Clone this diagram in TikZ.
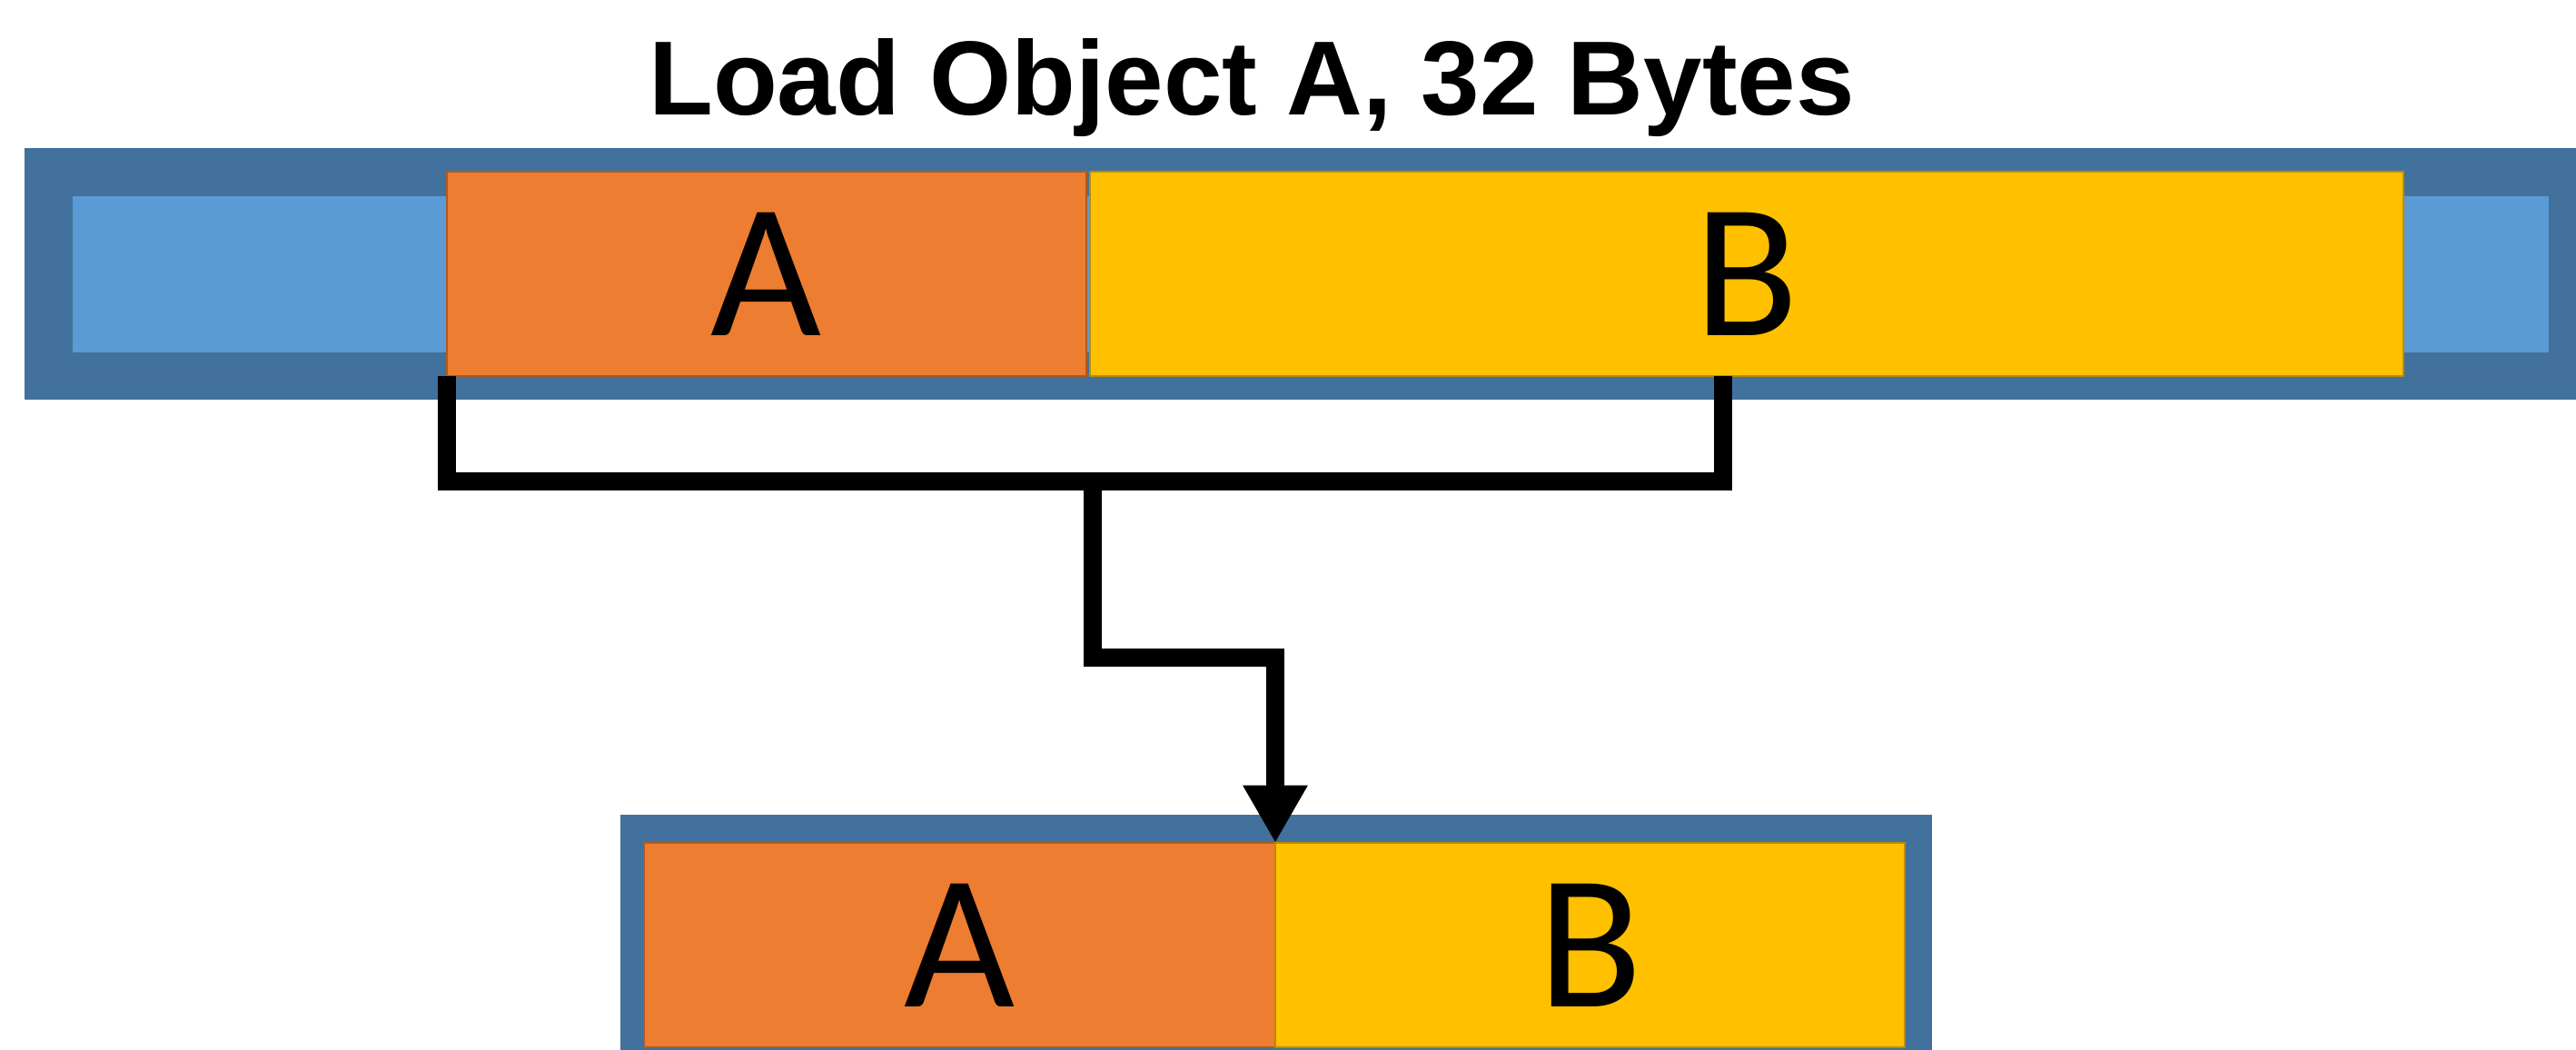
\documentclass[tikz,border=0pt]{standalone}
\usepackage{fontspec}
\setmainfont{Liberation Sans}
\newfontfamily\letterfont{Carlito}
\usetikzlibrary{arrows.meta,calc}

\definecolor{bardark}{RGB}{65,113,156}
\definecolor{barlight}{RGB}{91,155,213}
\definecolor{objA}{RGB}{237,125,49}
\definecolor{objAedge}{RGB}{174,90,33}
\definecolor{objB}{RGB}{255,192,0}
\definecolor{objBedge}{RGB}{188,140,0}

\tikzset{
  cell/.style={rectangle, inner sep=0pt, outer sep=0pt, anchor=north west},
  barout/.style={cell, fill=bardark},
  barin/.style={cell, fill=barlight},
  blockA/.style={cell, fill=objA, draw=objAedge, line width=0.6pt,
    font=\letterfont\fontsize{60}{72}\selectfont},
  blockB/.style={cell, fill=objB, draw=objBedge, line width=0.6pt,
    font=\letterfont\fontsize{60}{72}\selectfont},
  wire/.style={line width=5.7pt, line join=miter, line cap=butt},
  title/.style={font=\bfseries\fontsize{33}{40}\selectfont, inner sep=0pt}
}

\begin{document}
\begin{tikzpicture}
  % canvas
  \fill[white] (0,0) rectangle (28.36,-11.56);
  \useasboundingbox (0,0) rectangle (28.36,-11.56);

  % heading
  \node[title, anchor=base] (head) at (13.78,-1.27) {Load Object A, 32 Bytes};

  % cache line holding both objects
  \node[barout, minimum width=28.09cm, minimum height=2.77cm] (line) at (0.27,-1.63) {};
  \node[barin, minimum width=27.26cm, minimum height=1.72cm] (lineIn) at (0.80,-2.16) {};
  \node[blockA, minimum width=7.04cm, minimum height=2.25cm] (topA) at (4.92,-1.89) {A};
  \node[blockB, minimum width=14.46cm, minimum height=2.25cm] (topB) at (12.00,-1.89) {B};

  % loaded 32-byte block
  \node[barout, minimum width=14.44cm, minimum height=2.65cm] (load) at (6.83,-8.97) {};
  \node[blockA, minimum width=6.95cm, minimum height=2.25cm] (botA) at (7.09,-9.28) {A};
  \node[blockB, minimum width=6.93cm, minimum height=2.25cm] (botB) at (14.04,-9.28) {B};

  % bracket over the loaded range
  \coordinate (bl) at (4.92,-5.30);
  \coordinate (br) at (18.97,-5.30);
  \coordinate (bm) at (12.03,-5.30);
  \coordinate (bend) at (12.03,-7.24);
  \draw[wire] (topA.south west) -- (bl) -- (br) -- (br |- topB.south);

  % arrow down to the loaded block
  \draw[wire, -{Triangle[width=19pt,length=18pt]}]
    (bm) -- (bend) -- (bend -| botA.north east) -- (botA.north east);
\end{tikzpicture}
\end{document}
